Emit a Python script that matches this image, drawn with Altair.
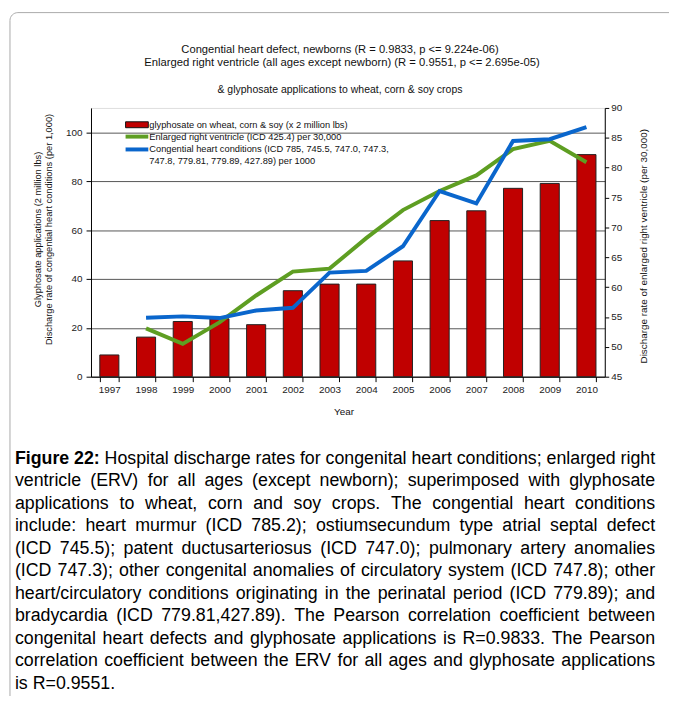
import altair as alt
import pandas as pd

years = [str(y) for y in range(1997, 2011)]
glyphosate = [8.9, 16.2, 22.6, 23.7, 21.3, 35.2, 37.9, 37.9, 47.4, 63.9, 67.9, 77.1, 79.1, 90.9]
line_years = [str(y) for y in range(1998, 2011)]
heart = [24.1, 24.7, 24.0, 27.1, 28.2, 42.6, 43.3, 53.4, 76.0, 70.9, 96.5, 97.2, 102.2]
erv = [53.1, 50.5, 54.1, 58.6, 62.6, 63.1, 68.2, 72.9, 76.1, 78.7, 83.1, 84.5, 80.9]

title_lines = [
    "Congential heart defect, newborns (R = 0.9833, p <= 9.224e-06)",
    "Enlarged right ventricle (all ages except newborn) (R = 0.9551, p <= 2.695e-05)",
    "& glyphosate applications to wheat, corn & soy crops",
]
legend_labels = [
    "glyphosate on wheat, corn & soy (x 2 million lbs)",
    "Enlarged right ventricle (ICD 425.4) per 30,000",
    "Congential heart conditions  (ICD 785, 745.5, 747.0, 747.3,",
    "747.8, 779.81, 779.89, 427.89) per 1000",
]
left_title = ["Glyphosate applications (2 million lbs)",
              "Discharge rate of congential heart conditions (per 1,000)"]
right_title = "Discharge rate of enlarged right ventricle (per 30,000)"
x_title = "Year"
caption_bold = "Figure 22:"
caption_lines = [
    "Hospital discharge rates for congenital heart conditions; enlarged right",
    "ventricle (ERV) for all ages (except newborn); superimposed with glyphosate",
    "applications to wheat, corn and soy crops. The congential heart conditions",
    "include: heart murmur (ICD 785.2); ostiumsecundum type atrial septal defect",
    "(ICD 745.5); patent ductusarteriosus (ICD 747.0); pulmonary artery anomalies",
    "(ICD 747.3); other congenital anomalies of circulatory system (ICD 747.8); other",
    "heart/circulatory conditions originating in the perinatal period (ICD 779.89); and",
    "bradycardia (ICD 779.81,427.89). The Pearson correlation coefficient between",
    "congenital heart defects and glyphosate applications is R=0.9833. The Pearson",
    "correlation coefficient between the ERV for all ages and glyphosate applications",
    "is R=0.9551.",
]

RED = "#C00000"
GREEN = "#5E9E22"
BLUE = "#0A66CC"
FONT = "Liberation Sans"

# Arial / Liberation Sans advance widths (per 1000 em) for the caption justification
W_REG = {" ": 278, "(": 333, ")": 333, ",": 278, ".": 278, "/": 278, ":": 278, ";": 278,
         "=": 584, "-": 333}
for d in "0123456789":
    W_REG[d] = 556
W_REG.update({"A": 667, "B": 667, "C": 722, "D": 722, "E": 667, "F": 611, "G": 778, "H": 722,
              "I": 278, "J": 500, "K": 667, "L": 556, "M": 833, "N": 722, "O": 778, "P": 667,
              "Q": 778, "R": 722, "S": 667, "T": 611, "U": 722, "V": 667, "W": 944, "X": 667,
              "Y": 667, "Z": 611})
W_REG.update({"a": 556, "b": 556, "c": 500, "d": 556, "e": 556, "f": 278, "g": 556, "h": 556,
              "i": 222, "j": 222, "k": 500, "l": 222, "m": 833, "n": 556, "o": 556, "p": 556,
              "q": 556, "r": 333, "s": 500, "t": 278, "u": 556, "v": 500, "w": 722, "x": 500,
              "y": 500, "z": 500})
W_BOLD = {"F": 611, "i": 278, "g": 611, "u": 611, "r": 389, "e": 556, "2": 556, ":": 333, " ": 278}

CAP_SIZE = 18
CAP_X0, CAP_X1 = 15 - 92, 663 - 92     # plot-area coordinates
CAP_Y0, CAP_DY = 460 - 105, 22.8

bars_df = pd.DataFrame({"year": years, "glyphosate": glyphosate})
heart_df = pd.DataFrame({"year": line_years, "heart": heart})
erv_df = pd.DataFrame({"year": line_years, "erv": erv})

xenc = alt.X(
    "year:O",
    scale=alt.Scale(domain=years, paddingInner=0.48, paddingOuter=0.24),
    axis=alt.Axis(
        title=None, tickBand="extent", labelAngle=0, tickSize=5, labelPadding=3,
        domainColor="black", tickColor="black", labelFont=FONT, labelFontSize=10,
        labelColor="#222",
    ),
)

bars = alt.Chart(bars_df).mark_bar(color=RED, stroke="#222", strokeWidth=1).encode(
    x=xenc,
    y=alt.Y(
        "glyphosate:Q",
        scale=alt.Scale(domain=[0, 110], nice=False),
        axis=alt.Axis(
            orient="left", values=[0, 20, 40, 60, 80, 100], title=None, grid=True,
            gridColor="#555", gridWidth=1, tickSize=5, labelPadding=4,
            domainColor="black", tickColor="black", labelFont=FONT, labelFontSize=10,
            labelColor="#222",
        ),
    ),
)

green = alt.Chart(erv_df).mark_line(color=GREEN, strokeWidth=4).encode(
    x=alt.X("year:O"),
    y=alt.Y(
        "erv:Q",
        scale=alt.Scale(domain=[45, 90], nice=False),
        axis=alt.Axis(
            orient="right", values=list(range(45, 95, 5)), title=None, grid=False,
            tickSize=4, labelPadding=2, domainColor="black", tickColor="black",
            labelFont=FONT, labelFontSize=10, labelColor="#222",
        ),
    ),
)

blue = alt.Chart(heart_df).mark_line(color=BLUE, strokeWidth=4).encode(
    x=alt.X("year:O"),
    y=alt.Y("heart:Q", scale=alt.Scale(domain=[0, 110], nice=False), axis=None),
)


def text_layer(txt, x, y, size=10, angle=0, align="center", weight="normal",
               baseline="middle", color="#111", **kw):
    return alt.Chart(pd.DataFrame({"t": [txt]})).mark_text(
        font=FONT, fontSize=size, angle=angle, align=align, baseline=baseline,
        fontWeight=weight, color=color, **kw
    ).encode(text="t:N", x=alt.value(x), y=alt.value(y))


layers = [bars, green, blue]

# titles
layers.append(text_layer(title_lines[0], 252, -59, size=11.3))
layers.append(text_layer(title_lines[1], 254, -45, size=11.4))
layers.append(text_layer(title_lines[2], 252, -18, size=10.6))

# legend
legend_box = alt.Chart(pd.DataFrame({"t": [legend_labels[0]]})).mark_rect(
    color=RED, stroke="#111", strokeWidth=1
).encode(x=alt.value(35), x2=alt.value(58), y=alt.value(14), y2=alt.value(20))
legend_green = alt.Chart(pd.DataFrame({"t": [legend_labels[1]]})).mark_rule(
    color=GREEN, strokeWidth=4
).encode(x=alt.value(35), x2=alt.value(58), y=alt.value(29))
legend_blue = alt.Chart(pd.DataFrame({"t": [legend_labels[2]]})).mark_rule(
    color=BLUE, strokeWidth=4
).encode(x=alt.value(35), x2=alt.value(58), y=alt.value(42))
layers += [legend_box, legend_green, legend_blue]
layers.append(text_layer(legend_labels[0], 59, 17, size=9.4, align="left"))
layers.append(text_layer(legend_labels[1], 59, 29, size=9.4, align="left"))
layers.append(text_layer(legend_labels[2], 59, 42, size=9.4, align="left"))
layers.append(text_layer(legend_labels[3], 59, 54, size=9.4, align="left"))

# axis titles
layers.append(text_layer(left_title[0], -54, 123, size=9.4, angle=270))
layers.append(text_layer(left_title[1], -42, 123, size=9.4, angle=270))
layers.append(text_layer(right_title, 560, 140, size=10, angle=270))
layers.append(text_layer(x_title, 256, 308, size=10))


# caption, justified word by word
def word_width(word, table):
    return sum(table.get(ch, 556) for ch in word) * CAP_SIZE / 1000.0


cap_words = []
for i, line in enumerate(caption_lines):
    items = [(w, "normal") for w in line.split(" ")]
    if i == 0:
        items = [(w, "bold") for w in caption_bold.split(" ")] + items
    widths = [word_width(w, W_BOLD if wt == "bold" else W_REG) for w, wt in items]
    justify = i < len(caption_lines) - 1
    if justify and len(items) > 1:
        gap = (CAP_X1 - CAP_X0 - sum(widths)) / (len(items) - 1)
    else:
        gap = W_REG[" "] * CAP_SIZE / 1000.0
    x = CAP_X0
    y = CAP_Y0 + i * CAP_DY
    for (w, wt), ww in zip(items, widths):
        cap_words.append((w, x, y, wt))
        x += ww + gap

for w, x, y, wt in cap_words:
    layers.append(text_layer(w, round(x, 2), round(y, 2), size=CAP_SIZE, align="left",
                             weight=wt, color="#000"))

# outer rounded frame
frame = alt.Chart(pd.DataFrame({"t": ["frame"]})).mark_rect(
    fill="white", fillOpacity=0, stroke="#aaaaaa", strokeWidth=1, cornerRadius=8
).encode(x=alt.value(-82), x2=alt.value(700), y=alt.value(-96.5), y2=alt.value(700))
layers.append(frame)

chart = alt.layer(*layers).resolve_scale(y="independent").properties(
    width=520, height=272,
    autosize=alt.AutoSizeParams(type="none"),
    padding={"left": 84, "top": 97, "right": 65, "bottom": 319},
).configure_view(stroke="#333", strokeWidth=1.5).configure(background="white")

chart.save("out.html", embed_options={"renderer": "svg", "actions": False})
